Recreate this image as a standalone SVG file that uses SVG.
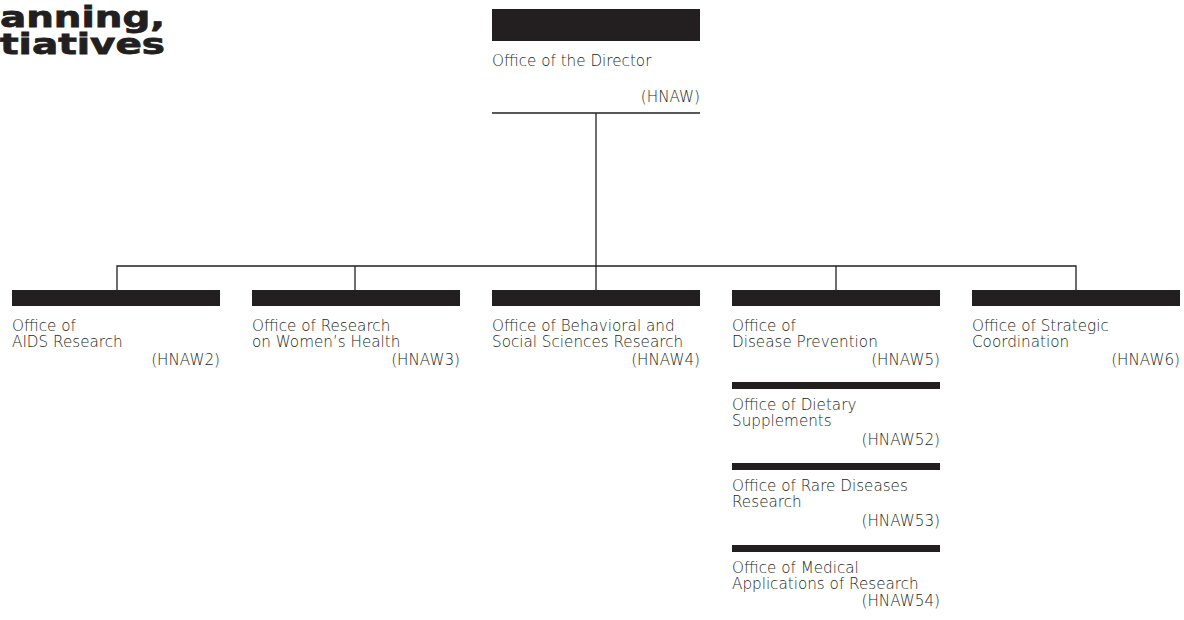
<svg xmlns="http://www.w3.org/2000/svg" width="1184" height="620" viewBox="0 0 1184 620">
<style>
.bar{fill:#231f20}
.sub{fill:#231f20}
.t{font-family:"DejaVu Sans","Liberation Sans",sans-serif;font-weight:200;font-size:15.2px;fill:#231f20}
.c{font-family:"DejaVu Sans","Liberation Sans",sans-serif;font-weight:200;font-size:15.2px;fill:#231f20;text-anchor:end}
.ttl{font-family:"DejaVu Sans","Liberation Sans",sans-serif;font-weight:bold;font-size:29px;fill:#231f20;stroke:#231f20;stroke-width:0.8}
.ln{stroke:#231f20;stroke-width:1.3;fill:none}
</style>
<rect width="1184" height="620" fill="#fff"/>
<g id="title">
<text class="ttl" x="0" y="27" textLength="165" lengthAdjust="spacingAndGlyphs">anning,</text>
<text class="ttl" x="0" y="54" textLength="165" lengthAdjust="spacingAndGlyphs">tiatives</text>
</g>
<g id="connectors">
<line class="ln" x1="492" y1="113" x2="700" y2="113"/>
<line class="ln" x1="596" y1="113" x2="596" y2="266"/>
<polyline class="ln" points="117,291 117,266 1076,266 1076,291"/>
<line class="ln" x1="355" y1="266" x2="355" y2="291"/>
<line class="ln" x1="596" y1="266" x2="596" y2="291"/>
<line class="ln" x1="836" y1="266" x2="836" y2="291"/>
</g>
<g id="director">
<rect class="bar" x="492" y="9" width="208" height="32"/>
<text class="t" x="492" y="66">Office of the Director</text>
<text class="c" x="700" y="102">(HNAW)</text>
</g>
<g id="hnaw2">
<rect class="bar" x="12" y="290" width="208" height="16"/>
<text class="t" x="12" y="331">Office of</text>
<text class="t" x="12" y="347">AIDS Research</text>
<text class="c" x="220" y="365">(HNAW2)</text>
</g>
<g id="hnaw3">
<rect class="bar" x="252" y="290" width="208" height="16"/>
<text class="t" x="252" y="331">Office of Research</text>
<text class="t" x="252" y="347">on Women’s Health</text>
<text class="c" x="460" y="365">(HNAW3)</text>
</g>
<g id="hnaw4">
<rect class="bar" x="492" y="290" width="208" height="16"/>
<text class="t" x="492" y="331">Office of Behavioral and</text>
<text class="t" x="492" y="347">Social Sciences Research</text>
<text class="c" x="700" y="365">(HNAW4)</text>
</g>
<g id="hnaw5">
<rect class="bar" x="732" y="290" width="208" height="16"/>
<text class="t" x="732" y="331">Office of</text>
<text class="t" x="732" y="347">Disease Prevention</text>
<text class="c" x="940" y="365">(HNAW5)</text>
</g>
<g id="hnaw52">
<rect class="sub" x="732" y="382" width="208" height="7"/>
<text class="t" x="732" y="410">Office of Dietary</text>
<text class="t" x="732" y="426">Supplements</text>
<text class="c" x="940" y="445">(HNAW52)</text>
</g>
<g id="hnaw53">
<rect class="sub" x="732" y="463" width="208" height="7"/>
<text class="t" x="732" y="491">Office of Rare Diseases</text>
<text class="t" x="732" y="507">Research</text>
<text class="c" x="940" y="526">(HNAW53)</text>
</g>
<g id="hnaw54">
<rect class="sub" x="732" y="545" width="208" height="7"/>
<text class="t" x="732" y="573">Office of Medical</text>
<text class="t" x="732" y="589">Applications of Research</text>
<text class="c" x="940" y="606">(HNAW54)</text>
</g>
<g id="hnaw6">
<rect class="bar" x="972" y="290" width="208" height="16"/>
<text class="t" x="972" y="331">Office of Strategic</text>
<text class="t" x="972" y="347">Coordination</text>
<text class="c" x="1180" y="365">(HNAW6)</text>
</g>
</svg>
